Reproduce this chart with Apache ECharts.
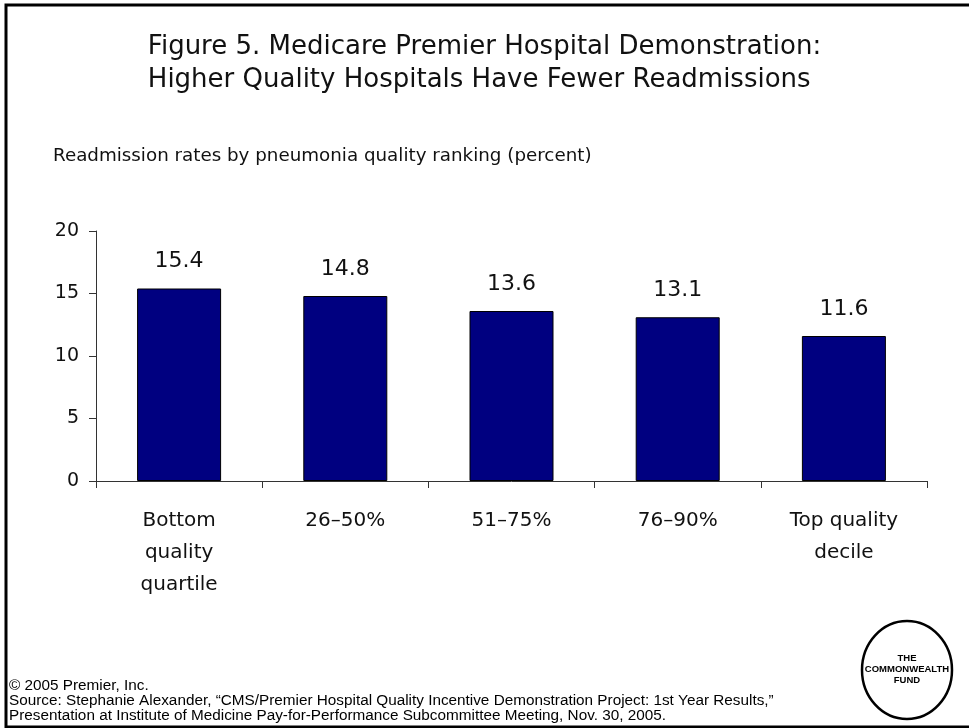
<!DOCTYPE html>
<html>
<head>
<meta charset="utf-8">
<script src="https://cdn.jsdelivr.net/npm/echarts@6/dist/echarts.min.js"></script>
<style>
  html, body { margin: 0; padding: 0; background: #fff; }
  #chart { width: 969px; height: 728px; }
</style>
</head>
<body>
<div id="chart"></div>
<script>
// readmission rates by quality group
var categories = ['Bottom\nquality\nquartile', '26\u201350%', '51\u201375%', '76\u201390%', 'Top quality\ndecile'];
var rates = [15.4, 14.8, 13.6, 13.1, 11.6];
var yTicks = [0, 5, 10, 15, 20];

var titleLines = [
  'Figure 5. Medicare Premier Hospital Demonstration:',
  'Higher Quality Hospitals Have Fewer Readmissions'
];
var subtitle = 'Readmission rates by pneumonia quality ranking (percent)';
var footLines = [
  '\u00a9 2005 Premier, Inc.',
  'Source: Stephanie Alexander, \u201cCMS/Premier Hospital Quality Incentive Demonstration Project: 1st Year Results,\u201d',
  'Presentation at Institute of Medicine Pay-for-Performance Subcommittee Meeting, Nov. 30, 2005.'
];

var chart = echarts.init(document.getElementById('chart'));
var font = 'DejaVu Sans';

chart.setOption({
  animation: false,
  backgroundColor: '#fff',
  grid: { left: 96, right: 42, top: 231, bottom: 247 },
  xAxis: {
    type: 'category',
    data: categories,
    axisLine: { lineStyle: { color: '#333', width: 1 } },
    axisTick: { show: true, length: 7, lineStyle: { color: '#333' } },
    axisLabel: {
      color: '#111', fontFamily: font, fontSize: 20,
      lineHeight: 32, margin: 24, interval: 0
    }
  },
  yAxis: {
    type: 'value',
    min: yTicks[0],
    max: yTicks[yTicks.length - 1],
    interval: 5,
    axisLine: { show: true, lineStyle: { color: '#333', width: 1 } },
    axisTick: { show: true, length: 7, lineStyle: { color: '#333' } },
    splitLine: { show: false },
    axisLabel: { color: '#111', fontFamily: font, fontSize: 19, margin: 17 }
  },
  series: [{
    type: 'bar',
    data: rates,
    barWidth: 84,
    itemStyle: { color: '#000080', borderColor: '#000', borderWidth: 1 },
    label: {
      show: true, position: 'top', distance: 16,
      color: '#111', fontFamily: font, fontSize: 22,
      formatter: function (p) { return p.value.toFixed(1); }
    }
  }],
  graphic: [
    {
      type: 'rect', silent: true,
      shape: { x: 6, y: 5, width: 980, height: 722 },
      style: { fill: null, stroke: '#000', lineWidth: 3 }
    },
    {
      type: 'text', left: 'center', top: 31,
      style: {
        text: titleLines.join('\n'), fill: '#111', font: '26px "DejaVu Sans"',
        lineHeight: 33, align: 'center'
      }
    },
    {
      type: 'text', left: 53, top: 147,
      style: { text: subtitle, fill: '#111', font: '18.3px "DejaVu Sans"' }
    },
    {
      type: 'text', left: 9, top: 678,
      style: {
        text: footLines.join('\n'), fill: '#000', font: '15.3px "Liberation Sans"',
        lineHeight: 15
      }
    },
    {
      type: 'ellipse', silent: true,
      shape: { cx: 907, cy: 670, rx: 45, ry: 49 },
      style: { fill: '#fff', stroke: '#000', lineWidth: 2.5 }
    },
    {
      type: 'text', x: 907, y: 669,
      style: {
        text: 'THE\nCOMMONWEALTH\nFUND', fill: '#000',
        font: 'bold 9.5px "Liberation Sans"', lineHeight: 11,
        align: 'center', verticalAlign: 'middle'
      }
    }
  ]
});
</script>
</body>
</html>
